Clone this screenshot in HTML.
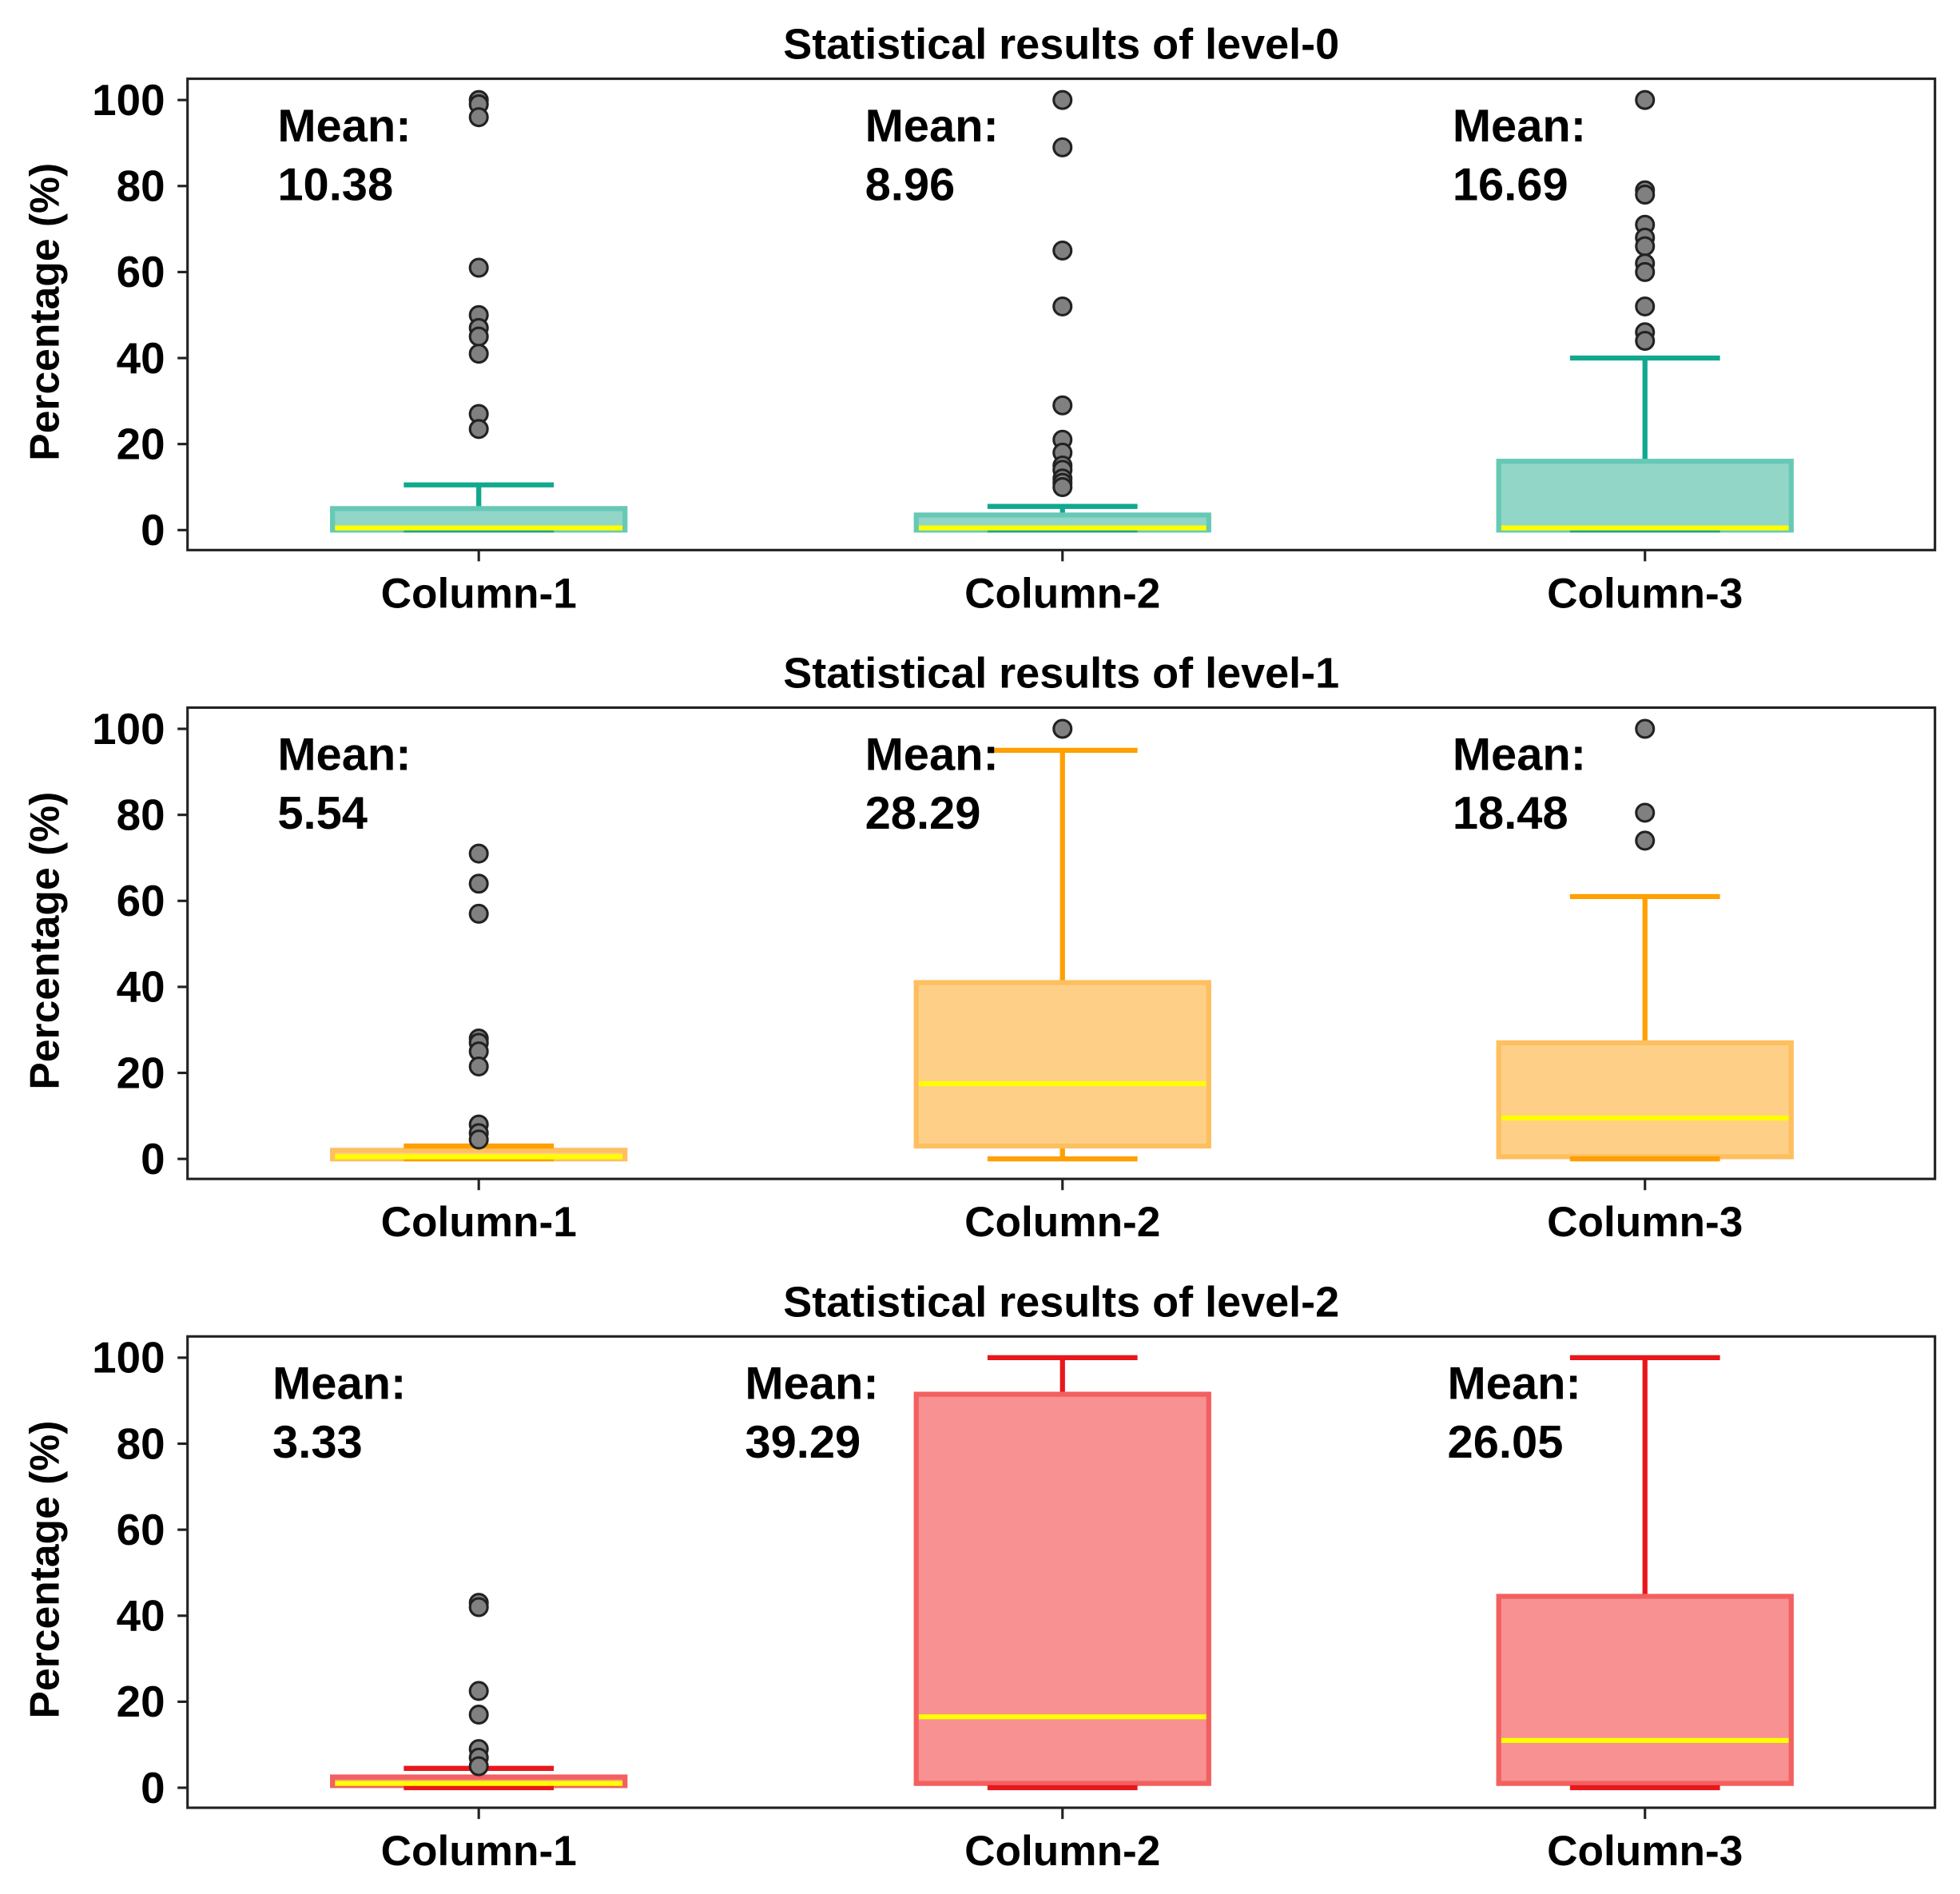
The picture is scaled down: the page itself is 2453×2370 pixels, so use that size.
<!DOCTYPE html>
<html><head><meta charset="utf-8">
<style>
html,body{margin:0;padding:0;background:#fff;}
svg{display:block;font-family:"Liberation Sans",sans-serif;font-weight:bold;}
</style></head>
<body>
<svg id="chart" width="2453" height="2370" viewBox="0 0 1568 1515" xmlns="http://www.w3.org/2000/svg"></svg>
<script>
const levels = ["level-0","level-1","level-2"];
const categories = ["Column-1","Column-2","Column-3"];
const yTicks = [0,20,40,60,80,100];
const means = [["10.38","8.96","16.69"],["5.54","28.29","18.48"],["3.33","39.29","26.05"]];
const whiskLo = [[0,0,0],[0,0,0],[0,0,0]];
const q1 = [[0,0,0],[0,3,0.5],[0.5,1,1]];
const medians = [[0.5,0.5,0.5],[0.5,17.5,9.5],[1,16.5,11]];
const q3 = [[5,3.5,16],[2,41,27],[2.5,91.5,44.5]];
const whiskHi = [[10.5,5.5,40],[3,95,61],[4.5,100,100]];
const outliers = [
 [[100,99,96,61,50,47,45,41,27,23.5],[100,89,65,52,29,21,18,15,14,12,11,10],[100,79,78,71,68,66,62,60,52,46,44]],
 [[71,64,57,28,27,25,21.5,8,6,4.5],[100],[100,80.5,74]],
 [[43,42,22.5,17,9,7,5],[],[]]
];
const palette = [
 {line:"#10a88e",fill:"#92d6c8",edge:"#66c9b6"},
 {line:"#ff9f00",fill:"#fecf87",edge:"#fdbf5f"},
 {line:"#e8171b",fill:"#f89191",edge:"#f26060"}
];
const meanX = [[222,692,1162],[222,692,1162],[218,596,1158]];

const NS="http://www.w3.org/2000/svg";
const svg=document.getElementById("chart");
function mk(tag,attrs,parent,text){const e=document.createElementNS(NS,tag);for(const k in attrs)e.setAttribute(k,attrs[k]);if(text!==undefined)e.textContent=text;(parent||svg).appendChild(e);return e;}
const AX_L=150, AX_R=1548, colX=[383,850,1316], BOX_HW=117, CAP_HW=60;

levels.forEach((lv,p)=>{
  const off=p*503;
  const top=63+off, bottom=440+off;
  const y=v=>424+off-(v/100)*344;
  const g=mk("g",{});
  
  
  const t=mk("text",{x:849,y:47+off,"text-anchor":"middle","font-size":34.5},g,"Statistical results of "+lv);
  
  
  const yt=mk("text",{transform:`translate(47,${(top+bottom)/2-2}) rotate(-90)`,"text-anchor":"middle","font-size":33},g,"Percentage (%)");
  
  
  yTicks.forEach(v=>{
    mk("line",{x1:AX_L-8,x2:AX_L,y1:y(v),y2:y(v),stroke:"#222","stroke-width":2},g);
    const tl=mk("text",{x:AX_L-18,y:y(v)+12,"text-anchor":"end","font-size":35},g,String(v));
    
    
  });
  categories.forEach((c,i)=>{
    const cx=colX[i], col=palette[p];
    mk("line",{x1:cx,x2:cx,y1:bottom,y2:bottom+9,stroke:"#222","stroke-width":2},g);
    const xl=mk("text",{x:cx,y:bottom+46,"text-anchor":"middle","font-size":34},g,c);
    
    
    mk("line",{x1:cx,x2:cx,y1:y(q3[p][i]),y2:y(whiskHi[p][i]),stroke:col.line,"stroke-width":4},g);
    mk("line",{x1:cx,x2:cx,y1:y(q1[p][i]),y2:y(whiskLo[p][i]),stroke:col.line,"stroke-width":4},g);
    const b=mk("rect",{x:cx-BOX_HW,y:y(q3[p][i]),width:BOX_HW*2,height:Math.max(1,y(q1[p][i])-y(q3[p][i])),fill:col.fill,stroke:col.edge,"stroke-width":4},g);
    
    
    mk("line",{x1:cx-CAP_HW,x2:cx+CAP_HW,y1:y(whiskHi[p][i]),y2:y(whiskHi[p][i]),stroke:col.line,"stroke-width":4},g);
    mk("line",{x1:cx-CAP_HW,x2:cx+CAP_HW,y1:y(whiskLo[p][i]),y2:y(whiskLo[p][i]),stroke:col.line,"stroke-width":4},g);
    const m=mk("line",{x1:cx-BOX_HW+2,x2:cx+BOX_HW-2,y1:y(medians[p][i]),y2:y(medians[p][i]),stroke:"#ffff00","stroke-width":4},g);
    
    
    outliers[p][i].forEach(v=>{
      const o=mk("circle",{cx:cx,cy:y(v),r:7,fill:"#808080",stroke:"#222","stroke-width":2},g);
      
      
    });
    const mt=mk("text",{x:meanX[p][i],y:113+off,"font-size":37},g,"Mean:");
    
    
    const mv=mk("text",{x:meanX[p][i],y:160+off,"font-size":37},g,means[p][i]);
    
    
  });
  const fr=mk("rect",{x:AX_L,y:top,width:AX_R-AX_L,height:bottom-top,fill:"none",stroke:"#222","stroke-width":2},g);
  
  
});
</script>
</body></html>
